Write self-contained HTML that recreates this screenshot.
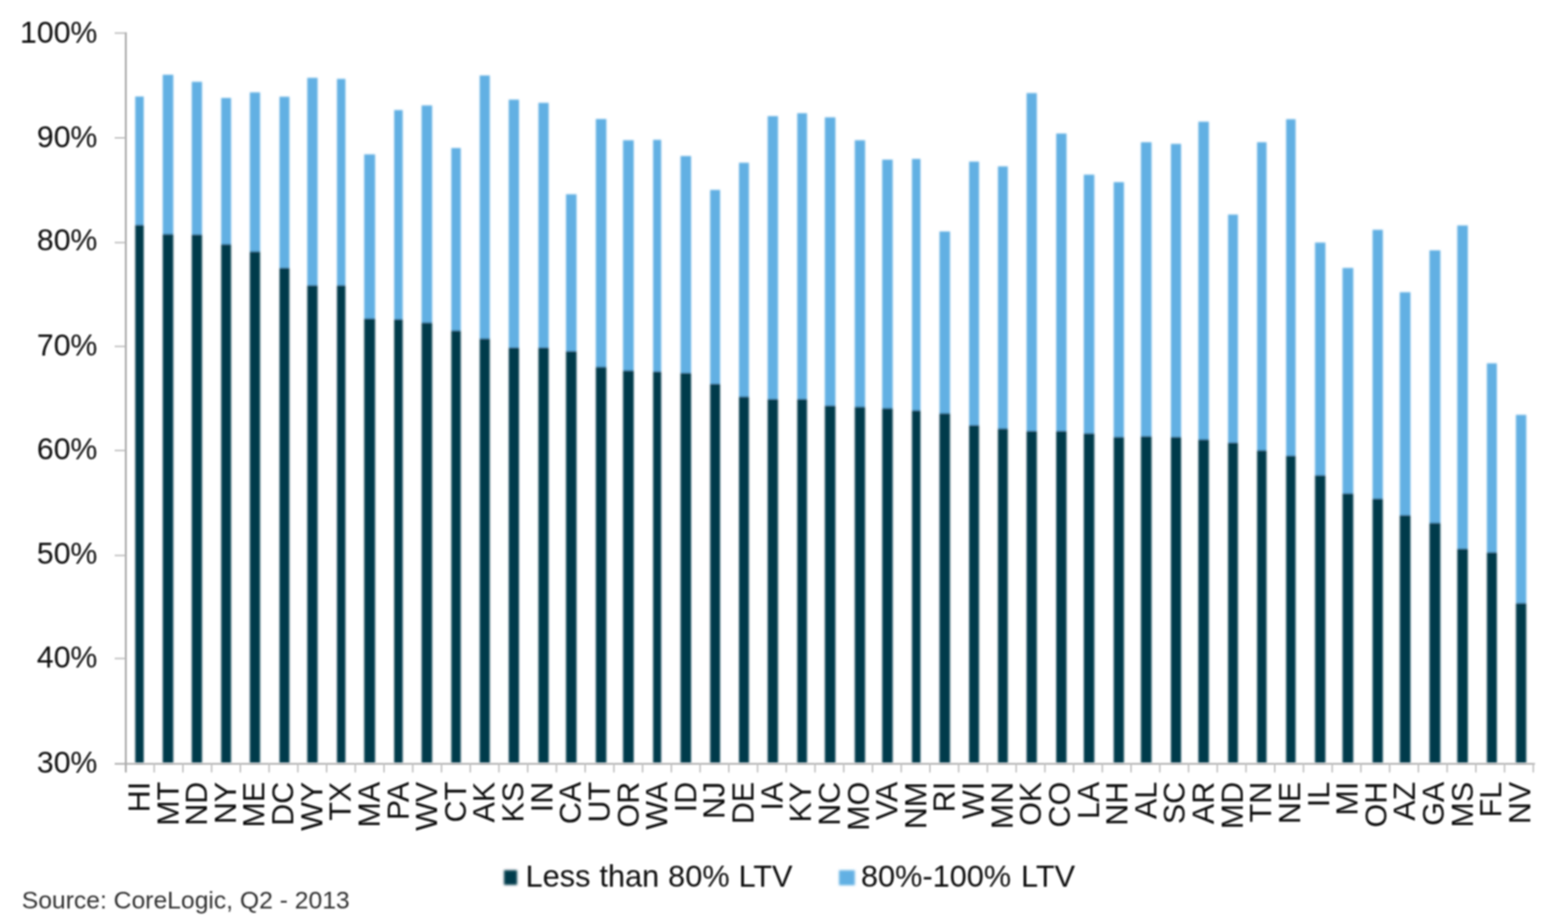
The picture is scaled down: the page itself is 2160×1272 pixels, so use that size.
<!DOCTYPE html>
<html lang="en">
<head>
<meta charset="utf-8">
<title>Equity distribution by state</title>
<style>
html,body{margin:0;padding:0;background:#fff;}
body{width:2160px;height:1272px;overflow:hidden;}
svg{display:block;font-family:"Liberation Sans",Arial,sans-serif;}
.yl{font-size:41.7px;fill:#0c0c0c;text-anchor:end;}
.xl{font-size:42px;fill:#0c0c0c;text-anchor:end;}
.lg{font-size:42.3px;fill:#0c0c0c;}
.src{font-size:34px;fill:#303030;}
</style>
</head>
<body>
<svg width="2160" height="1272" viewBox="0 0 2160 1272">
<defs><filter id="soft" x="0" y="0" width="2160" height="1272" filterUnits="userSpaceOnUse"><feGaussianBlur stdDeviation="1.4"/></filter><filter id="softt" x="0" y="0" width="2160" height="1272" filterUnits="userSpaceOnUse"><feGaussianBlur stdDeviation="0.9"/></filter></defs>
<rect width="2160" height="1272" fill="#ffffff"/>
<g id="chart">

<g id="shapes" filter="url(#soft)">
<g id="bars">
<rect x="186.3" y="133.0" width="11.7" height="177.5" fill="#62b0e3"/>
<rect x="186.3" y="310.0" width="11.7" height="741.5" fill="#053a4b"/>
<rect x="224.2" y="103.0" width="14.5" height="220.2" fill="#62b0e3"/>
<rect x="224.2" y="322.7" width="14.5" height="728.8" fill="#053a4b"/>
<rect x="264.2" y="112.7" width="14.1" height="211.1" fill="#62b0e3"/>
<rect x="264.2" y="323.3" width="14.1" height="728.2" fill="#053a4b"/>
<rect x="304.7" y="135.0" width="13.6" height="202.2" fill="#62b0e3"/>
<rect x="304.7" y="336.7" width="13.6" height="714.8" fill="#053a4b"/>
<rect x="344.2" y="127.3" width="14.1" height="219.9" fill="#62b0e3"/>
<rect x="344.2" y="346.7" width="14.1" height="704.8" fill="#053a4b"/>
<rect x="385.0" y="133.3" width="13.7" height="236.5" fill="#62b0e3"/>
<rect x="385.0" y="369.3" width="13.7" height="682.2" fill="#053a4b"/>
<rect x="423.3" y="107.3" width="14.2" height="286.5" fill="#62b0e3"/>
<rect x="423.3" y="393.3" width="14.2" height="658.2" fill="#053a4b"/>
<rect x="464.2" y="108.7" width="11.6" height="285.1" fill="#62b0e3"/>
<rect x="464.2" y="393.3" width="11.6" height="658.2" fill="#053a4b"/>
<rect x="501.7" y="212.7" width="15.0" height="226.8" fill="#62b0e3"/>
<rect x="501.7" y="439.0" width="15.0" height="612.5" fill="#053a4b"/>
<rect x="543.0" y="151.7" width="11.7" height="288.8" fill="#62b0e3"/>
<rect x="543.0" y="440.0" width="11.7" height="611.5" fill="#053a4b"/>
<rect x="580.8" y="145.3" width="14.5" height="299.9" fill="#62b0e3"/>
<rect x="580.8" y="444.7" width="14.5" height="606.8" fill="#053a4b"/>
<rect x="621.7" y="204.0" width="13.0" height="252.2" fill="#62b0e3"/>
<rect x="621.7" y="455.7" width="13.0" height="595.8" fill="#053a4b"/>
<rect x="660.8" y="104.0" width="13.9" height="363.2" fill="#62b0e3"/>
<rect x="660.8" y="466.7" width="13.9" height="584.8" fill="#053a4b"/>
<rect x="700.8" y="137.3" width="14.2" height="342.2" fill="#62b0e3"/>
<rect x="700.8" y="479.0" width="14.2" height="572.5" fill="#053a4b"/>
<rect x="741.7" y="141.7" width="14.1" height="337.8" fill="#62b0e3"/>
<rect x="741.7" y="479.0" width="14.1" height="572.5" fill="#053a4b"/>
<rect x="779.7" y="267.7" width="14.5" height="216.8" fill="#62b0e3"/>
<rect x="779.7" y="484.0" width="14.5" height="567.5" fill="#053a4b"/>
<rect x="820.8" y="164.0" width="14.5" height="342.2" fill="#62b0e3"/>
<rect x="820.8" y="505.7" width="14.5" height="545.8" fill="#053a4b"/>
<rect x="858.3" y="193.3" width="14.7" height="317.9" fill="#62b0e3"/>
<rect x="858.3" y="510.7" width="14.7" height="540.8" fill="#053a4b"/>
<rect x="899.7" y="192.7" width="11.1" height="319.8" fill="#62b0e3"/>
<rect x="899.7" y="512.0" width="11.1" height="539.5" fill="#053a4b"/>
<rect x="937.5" y="215.0" width="14.5" height="299.5" fill="#62b0e3"/>
<rect x="937.5" y="514.0" width="14.5" height="537.5" fill="#053a4b"/>
<rect x="978.3" y="261.7" width="13.7" height="267.8" fill="#62b0e3"/>
<rect x="978.3" y="529.0" width="13.7" height="522.5" fill="#053a4b"/>
<rect x="1018.0" y="224.3" width="13.7" height="322.9" fill="#62b0e3"/>
<rect x="1018.0" y="546.7" width="13.7" height="504.8" fill="#053a4b"/>
<rect x="1057.5" y="160.0" width="14.2" height="390.5" fill="#62b0e3"/>
<rect x="1057.5" y="550.0" width="14.2" height="501.5" fill="#053a4b"/>
<rect x="1098.3" y="156.0" width="13.4" height="394.5" fill="#62b0e3"/>
<rect x="1098.3" y="550.0" width="13.4" height="501.5" fill="#053a4b"/>
<rect x="1136.3" y="161.7" width="14.5" height="397.8" fill="#62b0e3"/>
<rect x="1136.3" y="559.0" width="14.5" height="492.5" fill="#053a4b"/>
<rect x="1177.5" y="193.3" width="14.2" height="367.9" fill="#62b0e3"/>
<rect x="1177.5" y="560.7" width="14.2" height="490.8" fill="#053a4b"/>
<rect x="1215.3" y="220.0" width="14.4" height="343.2" fill="#62b0e3"/>
<rect x="1215.3" y="562.7" width="14.4" height="488.8" fill="#053a4b"/>
<rect x="1256.3" y="219.0" width="11.7" height="347.2" fill="#62b0e3"/>
<rect x="1256.3" y="565.7" width="11.7" height="485.8" fill="#053a4b"/>
<rect x="1294.2" y="319.0" width="14.5" height="251.2" fill="#62b0e3"/>
<rect x="1294.2" y="569.7" width="14.5" height="481.8" fill="#053a4b"/>
<rect x="1335.0" y="222.7" width="13.7" height="363.8" fill="#62b0e3"/>
<rect x="1335.0" y="586.0" width="13.7" height="465.5" fill="#053a4b"/>
<rect x="1374.7" y="229.3" width="13.6" height="361.9" fill="#62b0e3"/>
<rect x="1374.7" y="590.7" width="13.6" height="460.8" fill="#053a4b"/>
<rect x="1414.2" y="128.3" width="14.1" height="466.2" fill="#62b0e3"/>
<rect x="1414.2" y="594.0" width="14.1" height="457.5" fill="#053a4b"/>
<rect x="1455.0" y="184.0" width="14.2" height="410.5" fill="#62b0e3"/>
<rect x="1455.0" y="594.0" width="14.2" height="457.5" fill="#053a4b"/>
<rect x="1493.0" y="240.7" width="14.5" height="357.1" fill="#62b0e3"/>
<rect x="1493.0" y="597.3" width="14.5" height="454.2" fill="#053a4b"/>
<rect x="1534.2" y="251.0" width="14.1" height="351.8" fill="#62b0e3"/>
<rect x="1534.2" y="602.3" width="14.1" height="449.2" fill="#053a4b"/>
<rect x="1571.7" y="196.0" width="14.6" height="405.8" fill="#62b0e3"/>
<rect x="1571.7" y="601.3" width="14.6" height="450.2" fill="#053a4b"/>
<rect x="1613.0" y="198.3" width="14.0" height="404.5" fill="#62b0e3"/>
<rect x="1613.0" y="602.3" width="14.0" height="449.2" fill="#053a4b"/>
<rect x="1650.8" y="167.7" width="14.5" height="438.5" fill="#62b0e3"/>
<rect x="1650.8" y="605.7" width="14.5" height="445.8" fill="#053a4b"/>
<rect x="1691.7" y="295.7" width="13.6" height="314.8" fill="#62b0e3"/>
<rect x="1691.7" y="610.0" width="13.6" height="441.5" fill="#053a4b"/>
<rect x="1731.7" y="196.0" width="13.0" height="425.2" fill="#62b0e3"/>
<rect x="1731.7" y="620.7" width="13.0" height="430.8" fill="#053a4b"/>
<rect x="1771.7" y="164.3" width="13.0" height="464.2" fill="#62b0e3"/>
<rect x="1771.7" y="628.0" width="13.0" height="423.5" fill="#053a4b"/>
<rect x="1811.5" y="334.3" width="14.3" height="321.2" fill="#62b0e3"/>
<rect x="1811.5" y="655.0" width="14.3" height="396.5" fill="#053a4b"/>
<rect x="1849.4" y="369.3" width="14.8" height="311.2" fill="#62b0e3"/>
<rect x="1849.4" y="680.0" width="14.8" height="371.5" fill="#053a4b"/>
<rect x="1890.8" y="316.7" width="14.1" height="371.1" fill="#62b0e3"/>
<rect x="1890.8" y="687.3" width="14.1" height="364.2" fill="#053a4b"/>
<rect x="1928.3" y="402.7" width="14.7" height="307.8" fill="#62b0e3"/>
<rect x="1928.3" y="710.0" width="14.7" height="341.5" fill="#053a4b"/>
<rect x="1969.2" y="345.0" width="15.0" height="376.2" fill="#62b0e3"/>
<rect x="1969.2" y="720.7" width="15.0" height="330.8" fill="#053a4b"/>
<rect x="2007.5" y="310.7" width="14.5" height="446.1" fill="#62b0e3"/>
<rect x="2007.5" y="756.3" width="14.5" height="295.2" fill="#053a4b"/>
<rect x="2048.3" y="500.7" width="13.7" height="261.1" fill="#62b0e3"/>
<rect x="2048.3" y="761.3" width="13.7" height="290.2" fill="#053a4b"/>
<rect x="2088.3" y="571.7" width="14.2" height="260.1" fill="#62b0e3"/>
<rect x="2088.3" y="831.3" width="14.2" height="220.2" fill="#053a4b"/>
</g>
</g>
<g id="axes" filter="url(#softt)" fill="none">
<line x1="173.3" y1="44.4" x2="173.3" y2="1064.5" stroke="#9e9e9e" stroke-width="2.3"/>
<line x1="158" y1="1052.6" x2="2114.5" y2="1052.6" stroke="#ababab" stroke-width="2.3"/>
<line x1="158" y1="45.6" x2="172.8" y2="45.6" stroke="#bcbcbc" stroke-width="2"/>
<line x1="158" y1="190.0" x2="172.8" y2="190.0" stroke="#bcbcbc" stroke-width="2"/>
<line x1="158" y1="334.3" x2="172.8" y2="334.3" stroke="#bcbcbc" stroke-width="2"/>
<line x1="158" y1="477.4" x2="172.8" y2="477.4" stroke="#bcbcbc" stroke-width="2"/>
<line x1="158" y1="620.8" x2="172.8" y2="620.8" stroke="#bcbcbc" stroke-width="2"/>
<line x1="158" y1="765.5" x2="172.8" y2="765.5" stroke="#bcbcbc" stroke-width="2"/>
<line x1="158" y1="907.5" x2="172.8" y2="907.5" stroke="#bcbcbc" stroke-width="2"/>
<line x1="212.4" y1="1052" x2="212.4" y2="1064.5" stroke="#bcbcbc" stroke-width="2"/>
<line x1="252.0" y1="1052" x2="252.0" y2="1064.5" stroke="#bcbcbc" stroke-width="2"/>
<line x1="291.5" y1="1052" x2="291.5" y2="1064.5" stroke="#bcbcbc" stroke-width="2"/>
<line x1="331.1" y1="1052" x2="331.1" y2="1064.5" stroke="#bcbcbc" stroke-width="2"/>
<line x1="370.7" y1="1052" x2="370.7" y2="1064.5" stroke="#bcbcbc" stroke-width="2"/>
<line x1="410.3" y1="1052" x2="410.3" y2="1064.5" stroke="#bcbcbc" stroke-width="2"/>
<line x1="449.9" y1="1052" x2="449.9" y2="1064.5" stroke="#bcbcbc" stroke-width="2"/>
<line x1="489.4" y1="1052" x2="489.4" y2="1064.5" stroke="#bcbcbc" stroke-width="2"/>
<line x1="529.0" y1="1052" x2="529.0" y2="1064.5" stroke="#bcbcbc" stroke-width="2"/>
<line x1="568.6" y1="1052" x2="568.6" y2="1064.5" stroke="#bcbcbc" stroke-width="2"/>
<line x1="608.2" y1="1052" x2="608.2" y2="1064.5" stroke="#bcbcbc" stroke-width="2"/>
<line x1="647.8" y1="1052" x2="647.8" y2="1064.5" stroke="#bcbcbc" stroke-width="2"/>
<line x1="687.3" y1="1052" x2="687.3" y2="1064.5" stroke="#bcbcbc" stroke-width="2"/>
<line x1="726.9" y1="1052" x2="726.9" y2="1064.5" stroke="#bcbcbc" stroke-width="2"/>
<line x1="766.5" y1="1052" x2="766.5" y2="1064.5" stroke="#bcbcbc" stroke-width="2"/>
<line x1="806.1" y1="1052" x2="806.1" y2="1064.5" stroke="#bcbcbc" stroke-width="2"/>
<line x1="845.7" y1="1052" x2="845.7" y2="1064.5" stroke="#bcbcbc" stroke-width="2"/>
<line x1="885.2" y1="1052" x2="885.2" y2="1064.5" stroke="#bcbcbc" stroke-width="2"/>
<line x1="924.8" y1="1052" x2="924.8" y2="1064.5" stroke="#bcbcbc" stroke-width="2"/>
<line x1="964.4" y1="1052" x2="964.4" y2="1064.5" stroke="#bcbcbc" stroke-width="2"/>
<line x1="1004.0" y1="1052" x2="1004.0" y2="1064.5" stroke="#bcbcbc" stroke-width="2"/>
<line x1="1043.6" y1="1052" x2="1043.6" y2="1064.5" stroke="#bcbcbc" stroke-width="2"/>
<line x1="1083.1" y1="1052" x2="1083.1" y2="1064.5" stroke="#bcbcbc" stroke-width="2"/>
<line x1="1122.7" y1="1052" x2="1122.7" y2="1064.5" stroke="#bcbcbc" stroke-width="2"/>
<line x1="1162.3" y1="1052" x2="1162.3" y2="1064.5" stroke="#bcbcbc" stroke-width="2"/>
<line x1="1201.9" y1="1052" x2="1201.9" y2="1064.5" stroke="#bcbcbc" stroke-width="2"/>
<line x1="1241.5" y1="1052" x2="1241.5" y2="1064.5" stroke="#bcbcbc" stroke-width="2"/>
<line x1="1281.0" y1="1052" x2="1281.0" y2="1064.5" stroke="#bcbcbc" stroke-width="2"/>
<line x1="1320.6" y1="1052" x2="1320.6" y2="1064.5" stroke="#bcbcbc" stroke-width="2"/>
<line x1="1360.2" y1="1052" x2="1360.2" y2="1064.5" stroke="#bcbcbc" stroke-width="2"/>
<line x1="1399.8" y1="1052" x2="1399.8" y2="1064.5" stroke="#bcbcbc" stroke-width="2"/>
<line x1="1439.4" y1="1052" x2="1439.4" y2="1064.5" stroke="#bcbcbc" stroke-width="2"/>
<line x1="1478.9" y1="1052" x2="1478.9" y2="1064.5" stroke="#bcbcbc" stroke-width="2"/>
<line x1="1518.5" y1="1052" x2="1518.5" y2="1064.5" stroke="#bcbcbc" stroke-width="2"/>
<line x1="1558.1" y1="1052" x2="1558.1" y2="1064.5" stroke="#bcbcbc" stroke-width="2"/>
<line x1="1597.7" y1="1052" x2="1597.7" y2="1064.5" stroke="#bcbcbc" stroke-width="2"/>
<line x1="1637.3" y1="1052" x2="1637.3" y2="1064.5" stroke="#bcbcbc" stroke-width="2"/>
<line x1="1676.8" y1="1052" x2="1676.8" y2="1064.5" stroke="#bcbcbc" stroke-width="2"/>
<line x1="1716.4" y1="1052" x2="1716.4" y2="1064.5" stroke="#bcbcbc" stroke-width="2"/>
<line x1="1756.0" y1="1052" x2="1756.0" y2="1064.5" stroke="#bcbcbc" stroke-width="2"/>
<line x1="1795.6" y1="1052" x2="1795.6" y2="1064.5" stroke="#bcbcbc" stroke-width="2"/>
<line x1="1835.2" y1="1052" x2="1835.2" y2="1064.5" stroke="#bcbcbc" stroke-width="2"/>
<line x1="1874.7" y1="1052" x2="1874.7" y2="1064.5" stroke="#bcbcbc" stroke-width="2"/>
<line x1="1914.3" y1="1052" x2="1914.3" y2="1064.5" stroke="#bcbcbc" stroke-width="2"/>
<line x1="1953.9" y1="1052" x2="1953.9" y2="1064.5" stroke="#bcbcbc" stroke-width="2"/>
<line x1="1993.5" y1="1052" x2="1993.5" y2="1064.5" stroke="#bcbcbc" stroke-width="2"/>
<line x1="2033.1" y1="1052" x2="2033.1" y2="1064.5" stroke="#bcbcbc" stroke-width="2"/>
<line x1="2072.6" y1="1052" x2="2072.6" y2="1064.5" stroke="#bcbcbc" stroke-width="2"/>
<line x1="2112.2" y1="1052" x2="2112.2" y2="1064.5" stroke="#bcbcbc" stroke-width="2"/>
</g>
<g id="texts" filter="url(#softt)">
<g id="ylabels">
<text class="yl" x="134.2" y="58.5">100%</text>
<text class="yl" x="134.2" y="203.3">90%</text>
<text class="yl" x="134.2" y="345.4">80%</text>
<text class="yl" x="134.2" y="490.0">70%</text>
<text class="yl" x="134.2" y="632.7">60%</text>
<text class="yl" x="134.2" y="776.5">50%</text>
<text class="yl" x="134.2" y="920.4">40%</text>
<text class="yl" x="134.2" y="1065.1">30%</text>
</g>
<g id="xlabels">
<text class="xl" transform="translate(205.8 1077.4) rotate(-90)" x="0" y="0">HI</text>
<text class="xl" transform="translate(245.5 1077.4) rotate(-90)" x="0" y="0">MT</text>
<text class="xl" transform="translate(285.1 1077.4) rotate(-90)" x="0" y="0">ND</text>
<text class="xl" transform="translate(324.7 1077.4) rotate(-90)" x="0" y="0">NY</text>
<text class="xl" transform="translate(364.3 1077.4) rotate(-90)" x="0" y="0">ME</text>
<text class="xl" transform="translate(404.0 1077.4) rotate(-90)" x="0" y="0">DC</text>
<text class="xl" transform="translate(443.6 1077.4) rotate(-90)" x="0" y="0">WY</text>
<text class="xl" transform="translate(483.2 1077.4) rotate(-90)" x="0" y="0">TX</text>
<text class="xl" transform="translate(522.8 1077.4) rotate(-90)" x="0" y="0">MA</text>
<text class="xl" transform="translate(562.5 1077.4) rotate(-90)" x="0" y="0">PA</text>
<text class="xl" transform="translate(602.1 1077.4) rotate(-90)" x="0" y="0">WV</text>
<text class="xl" transform="translate(641.7 1077.4) rotate(-90)" x="0" y="0">CT</text>
<text class="xl" transform="translate(681.4 1077.4) rotate(-90)" x="0" y="0">AK</text>
<text class="xl" transform="translate(721.0 1077.4) rotate(-90)" x="0" y="0">KS</text>
<text class="xl" transform="translate(760.6 1077.4) rotate(-90)" x="0" y="0">IN</text>
<text class="xl" transform="translate(800.2 1077.4) rotate(-90)" x="0" y="0">CA</text>
<text class="xl" transform="translate(839.9 1077.4) rotate(-90)" x="0" y="0">UT</text>
<text class="xl" transform="translate(879.5 1077.4) rotate(-90)" x="0" y="0">OR</text>
<text class="xl" transform="translate(919.1 1077.4) rotate(-90)" x="0" y="0">WA</text>
<text class="xl" transform="translate(958.7 1077.4) rotate(-90)" x="0" y="0">ID</text>
<text class="xl" transform="translate(998.4 1077.4) rotate(-90)" x="0" y="0">NJ</text>
<text class="xl" transform="translate(1038.0 1077.4) rotate(-90)" x="0" y="0">DE</text>
<text class="xl" transform="translate(1077.6 1077.4) rotate(-90)" x="0" y="0">IA</text>
<text class="xl" transform="translate(1117.2 1077.4) rotate(-90)" x="0" y="0">KY</text>
<text class="xl" transform="translate(1156.9 1077.4) rotate(-90)" x="0" y="0">NC</text>
<text class="xl" transform="translate(1196.5 1077.4) rotate(-90)" x="0" y="0">MO</text>
<text class="xl" transform="translate(1236.1 1077.4) rotate(-90)" x="0" y="0">VA</text>
<text class="xl" transform="translate(1275.7 1077.4) rotate(-90)" x="0" y="0">NM</text>
<text class="xl" transform="translate(1315.4 1077.4) rotate(-90)" x="0" y="0">RI</text>
<text class="xl" transform="translate(1355.0 1077.4) rotate(-90)" x="0" y="0">WI</text>
<text class="xl" transform="translate(1394.6 1077.4) rotate(-90)" x="0" y="0">MN</text>
<text class="xl" transform="translate(1434.2 1077.4) rotate(-90)" x="0" y="0">OK</text>
<text class="xl" transform="translate(1473.9 1077.4) rotate(-90)" x="0" y="0">CO</text>
<text class="xl" transform="translate(1513.5 1077.4) rotate(-90)" x="0" y="0">LA</text>
<text class="xl" transform="translate(1553.1 1077.4) rotate(-90)" x="0" y="0">NH</text>
<text class="xl" transform="translate(1592.7 1077.4) rotate(-90)" x="0" y="0">AL</text>
<text class="xl" transform="translate(1632.4 1077.4) rotate(-90)" x="0" y="0">SC</text>
<text class="xl" transform="translate(1672.0 1077.4) rotate(-90)" x="0" y="0">AR</text>
<text class="xl" transform="translate(1711.6 1077.4) rotate(-90)" x="0" y="0">MD</text>
<text class="xl" transform="translate(1751.3 1077.4) rotate(-90)" x="0" y="0">TN</text>
<text class="xl" transform="translate(1790.9 1077.4) rotate(-90)" x="0" y="0">NE</text>
<text class="xl" transform="translate(1830.5 1077.4) rotate(-90)" x="0" y="0">IL</text>
<text class="xl" transform="translate(1870.1 1077.4) rotate(-90)" x="0" y="0">MI</text>
<text class="xl" transform="translate(1909.8 1077.4) rotate(-90)" x="0" y="0">OH</text>
<text class="xl" transform="translate(1949.4 1077.4) rotate(-90)" x="0" y="0">AZ</text>
<text class="xl" transform="translate(1989.0 1077.4) rotate(-90)" x="0" y="0">GA</text>
<text class="xl" transform="translate(2028.6 1077.4) rotate(-90)" x="0" y="0">MS</text>
<text class="xl" transform="translate(2068.3 1077.4) rotate(-90)" x="0" y="0">FL</text>
<text class="xl" transform="translate(2107.9 1077.4) rotate(-90)" x="0" y="0">NV</text>
</g>
<g id="legend">
<rect x="694.3" y="1199.2" width="18" height="20.3" fill="#053a4b" filter="url(#soft)"/>
<text class="lg" x="724" y="1221.9" word-spacing="0.6">Less than 80% LTV</text>
<rect x="1155.8" y="1199.3" width="21.8" height="20.7" fill="#62b0e3" filter="url(#soft)"/>
<text class="lg" x="1186" y="1221.8" word-spacing="1.9">80%-100% LTV</text>
</g>
<text class="src" x="30" y="1252.3">Source: CoreLogic, Q2 - 2013</text>
</g>
</g>
</svg>
</body>
</html>
